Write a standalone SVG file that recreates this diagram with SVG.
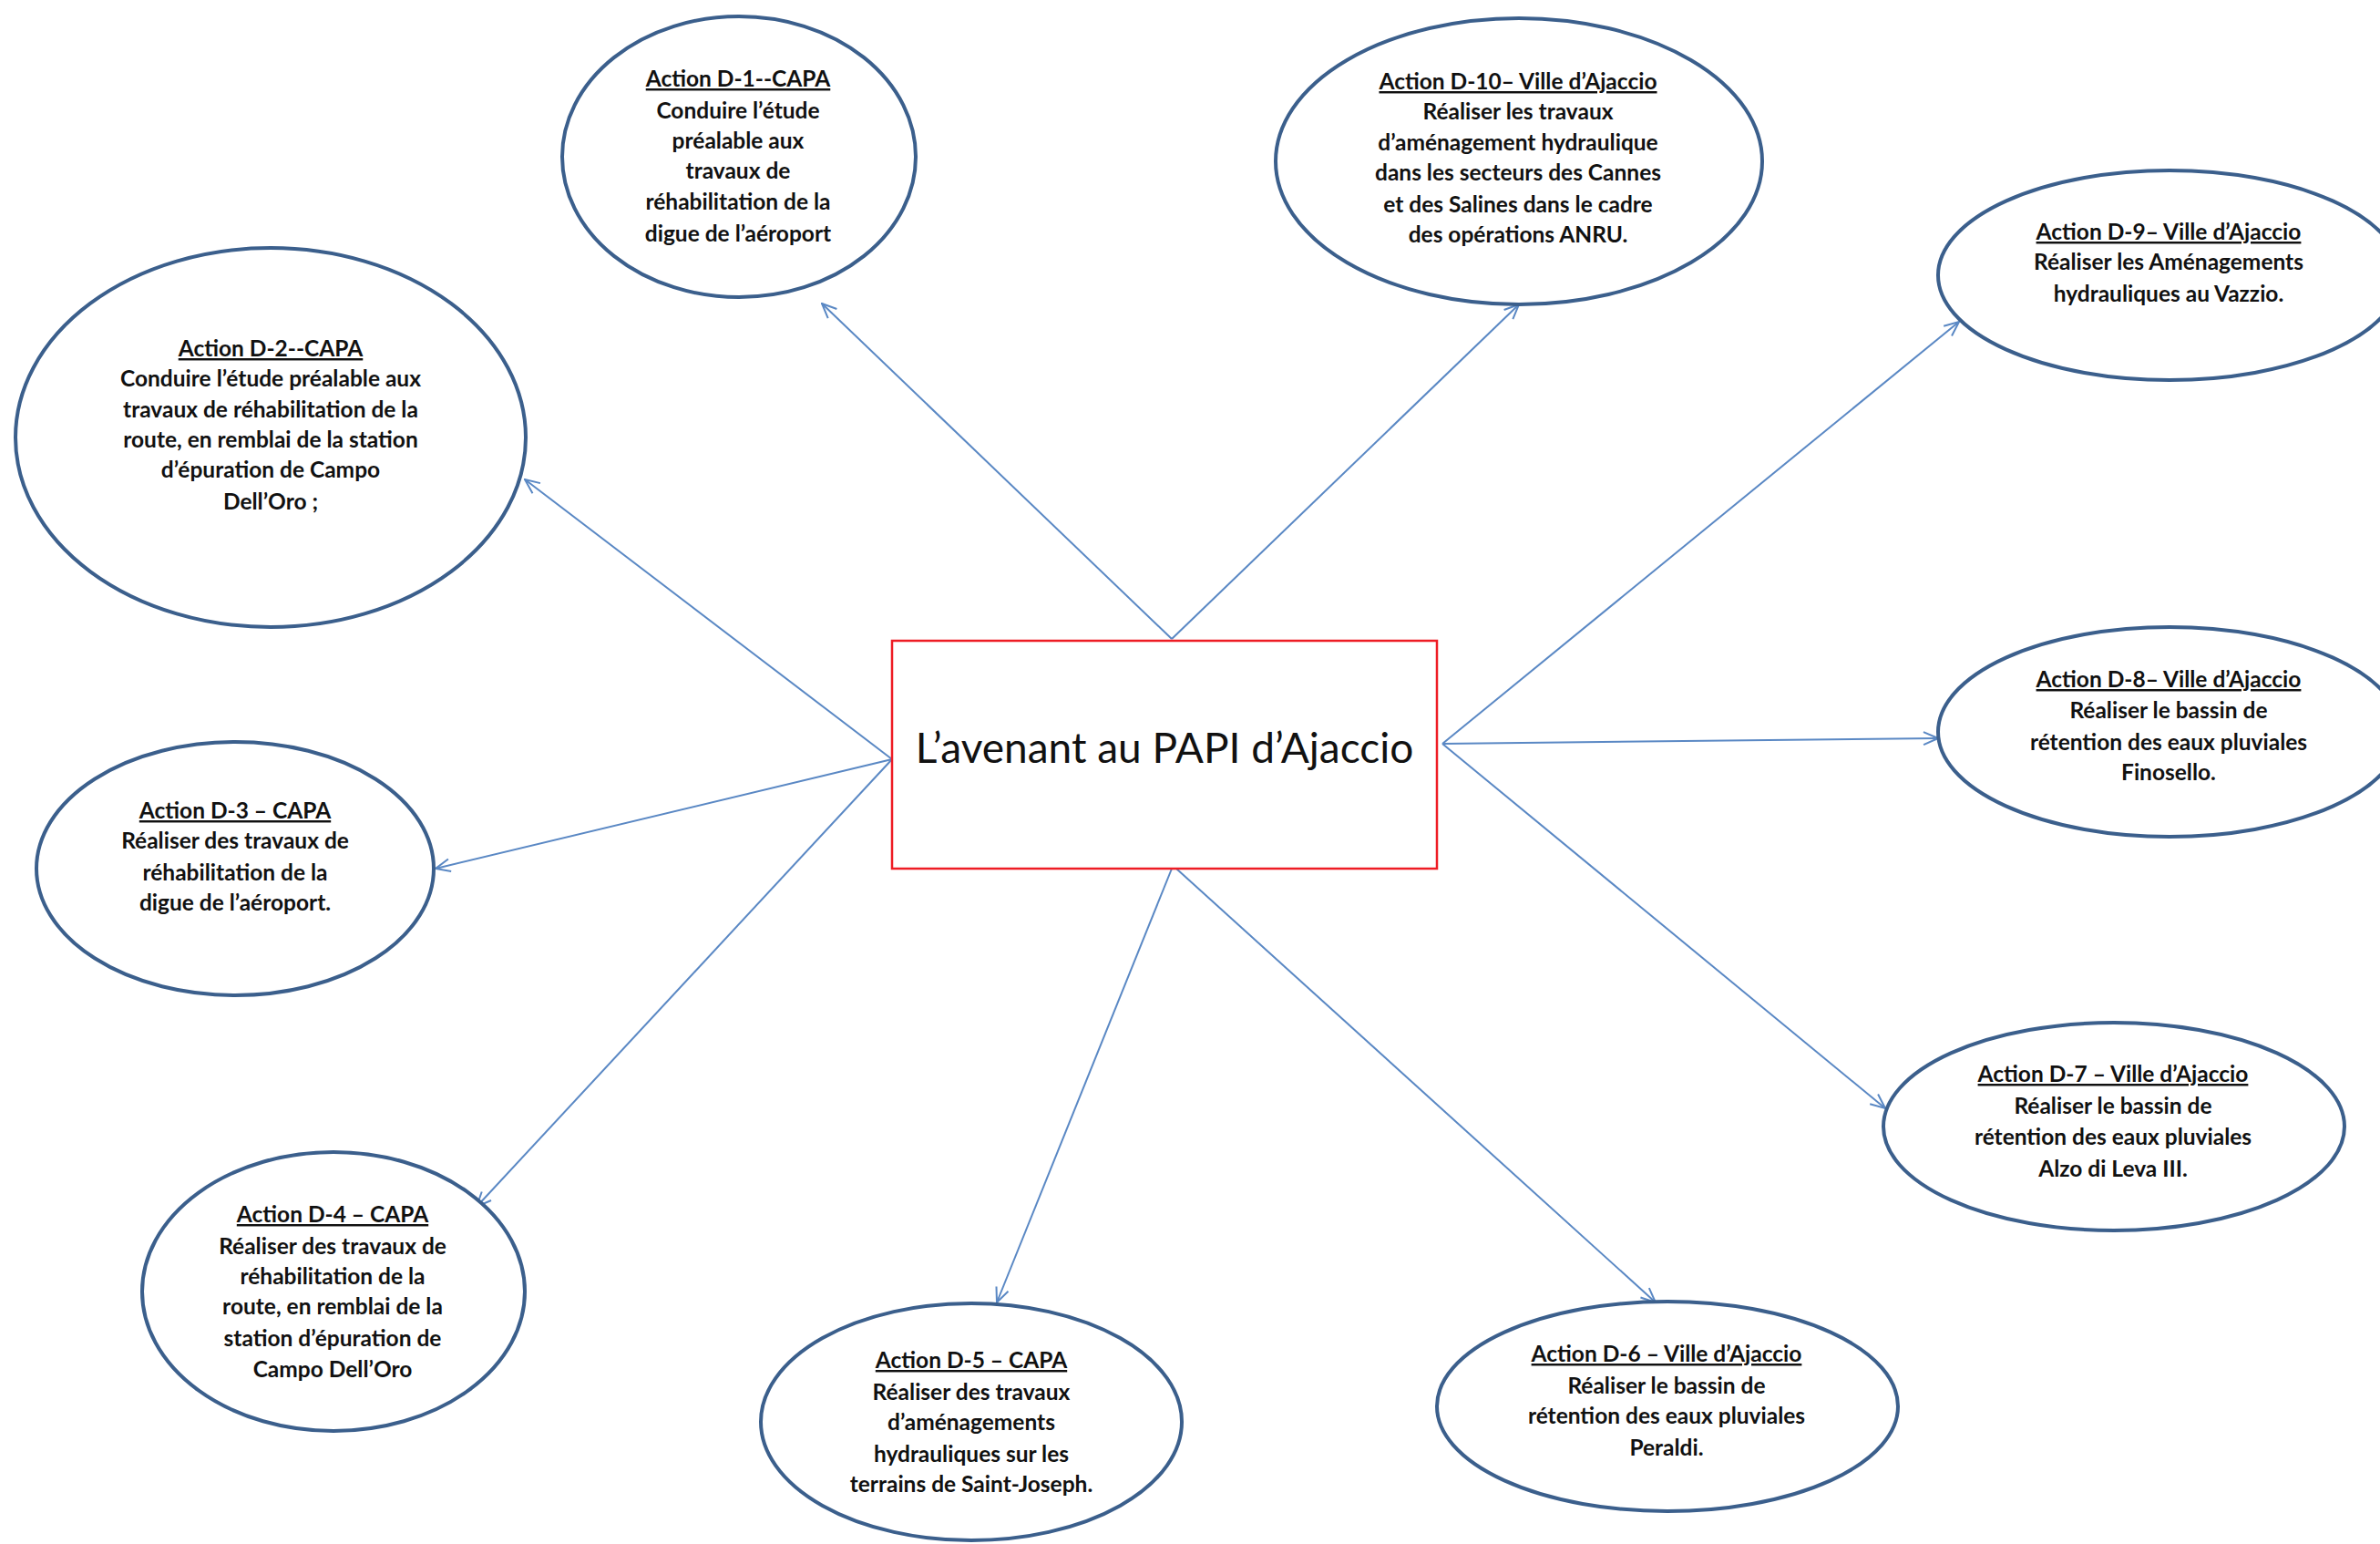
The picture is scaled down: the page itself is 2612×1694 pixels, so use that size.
<svg xmlns="http://www.w3.org/2000/svg" width="2612" height="1694" viewBox="0 0 2612 1694">
<style>
.node ellipse{fill:#ffffff;stroke:#3b5f8c;stroke-width:4}
.t{font-family:Lato,"Liberation Sans",sans-serif;font-weight:bold;font-size:24.5px;fill:#111;text-anchor:middle}
.h{text-decoration:underline}
.conn line{stroke:#5a88c4;stroke-width:2;marker-end:url(#arr)}
.main rect{fill:#fff;stroke:#ee1c24;stroke-width:2.5}
.mt{font-family:Lato,"Liberation Sans",sans-serif;font-size:46px;fill:#111;text-anchor:middle}
</style>
<defs>
<marker id="arr" viewBox="0 0 20 20" refX="19" refY="10" markerWidth="20" markerHeight="20" markerUnits="userSpaceOnUse" orient="auto">
<path d="M3,3 L19,10 L3,17" fill="none" stroke="#5a88c4" stroke-width="2"/>
</marker>
</defs>
<rect width="2612" height="1694" fill="#ffffff"/>
<g class="conn" id="connectors">
<line x1="1286" y1="701" x2="902" y2="333"/>
<line x1="1286" y1="701" x2="1667" y2="334"/>
<line x1="1583" y1="816" x2="2150" y2="353"/>
<line x1="1583" y1="816" x2="2127" y2="810"/>
<line x1="1583" y1="816" x2="2069" y2="1216"/>
<line x1="1291" y1="953" x2="1817" y2="1429"/>
<line x1="1286" y1="953" x2="1094" y2="1429"/>
<line x1="979" y1="833" x2="523" y2="1324"/>
<line x1="979" y1="833" x2="478" y2="953"/>
<line x1="979" y1="833" x2="576" y2="526"/>
</g>
<g class="main" id="center">
<rect x="979" y="703" width="598" height="250"/>
<text class="mt" x="1278" y="837">L’avenant au PAPI d’Ajaccio</text>
</g>
<g class="node" id="d1">
<ellipse cx="811" cy="172" rx="194" ry="154"/>
<text class="t h" x="810" y="95">Action D-1--CAPA</text>
<text class="t" x="810" y="130">Conduire l’étude</text>
<text class="t" x="810" y="163">préalable aux</text>
<text class="t" x="810" y="196">travaux de</text>
<text class="t" x="810" y="230">réhabilitation de la</text>
<text class="t" x="810" y="265">digue de l’aéroport</text>
</g>
<g class="node" id="d10">
<ellipse cx="1667" cy="177" rx="267" ry="157"/>
<text class="t h" x="1666" y="98">Action D-10– Ville d’Ajaccio</text>
<text class="t" x="1666" y="131">Réaliser les travaux</text>
<text class="t" x="1666" y="165">d’aménagement hydraulique</text>
<text class="t" x="1666" y="198">dans les secteurs des Cannes</text>
<text class="t" x="1666" y="233">et des Salines dans le cadre</text>
<text class="t" x="1666" y="266">des opérations ANRU.</text>
</g>
<g class="node" id="d9">
<ellipse cx="2381" cy="302" rx="254" ry="115"/>
<text class="t h" x="2380" y="263">Action D-9– Ville d’Ajaccio</text>
<text class="t" x="2380" y="296">Réaliser les Aménagements</text>
<text class="t" x="2380" y="331">hydrauliques au Vazzio.</text>
</g>
<g class="node" id="d2">
<ellipse cx="297" cy="480" rx="280" ry="208"/>
<text class="t h" x="297" y="391">Action D-2--CAPA</text>
<text class="t" x="297" y="424">Conduire l’étude préalable aux</text>
<text class="t" x="297" y="458">travaux de réhabilitation de la</text>
<text class="t" x="297" y="491">route, en remblai de la station</text>
<text class="t" x="297" y="524">d’épuration de Campo</text>
<text class="t" x="297" y="559">Dell’Oro ;</text>
</g>
<g class="node" id="d8">
<ellipse cx="2381" cy="803" rx="254" ry="115"/>
<text class="t h" x="2380" y="754">Action D-8– Ville d’Ajaccio</text>
<text class="t" x="2380" y="788">Réaliser le bassin de</text>
<text class="t" x="2380" y="823">rétention des eaux pluviales</text>
<text class="t" x="2380" y="856">Finosello.</text>
</g>
<g class="node" id="d3">
<ellipse cx="258" cy="953" rx="218" ry="139"/>
<text class="t h" x="258" y="898">Action D-3 – CAPA</text>
<text class="t" x="258" y="931">Réaliser des travaux de</text>
<text class="t" x="258" y="966">réhabilitation de la</text>
<text class="t" x="258" y="999">digue de l’aéroport.</text>
</g>
<g class="node" id="d7">
<ellipse cx="2320" cy="1236" rx="253" ry="114"/>
<text class="t h" x="2319" y="1187">Action D-7 – Ville d’Ajaccio</text>
<text class="t" x="2319" y="1222">Réaliser le bassin de</text>
<text class="t" x="2319" y="1256">rétention des eaux pluviales</text>
<text class="t" x="2319" y="1291">Alzo di Leva III.</text>
</g>
<g class="node" id="d4">
<ellipse cx="366" cy="1417" rx="210" ry="153"/>
<text class="t h" x="365" y="1341">Action D-4 – CAPA</text>
<text class="t" x="365" y="1376">Réaliser des travaux de</text>
<text class="t" x="365" y="1409">réhabilitation de la</text>
<text class="t" x="365" y="1442">route, en remblai de la</text>
<text class="t" x="365" y="1477">station d’épuration de</text>
<text class="t" x="365" y="1511">Campo Dell’Oro</text>
</g>
<g class="node" id="d5">
<ellipse cx="1066" cy="1560" rx="231" ry="130"/>
<text class="t h" x="1066" y="1501">Action D-5 – CAPA</text>
<text class="t" x="1066" y="1536">Réaliser des travaux</text>
<text class="t" x="1066" y="1569">d’aménagements</text>
<text class="t" x="1066" y="1604">hydrauliques sur les</text>
<text class="t" x="1066" y="1637">terrains de Saint-Joseph.</text>
</g>
<g class="node" id="d6">
<ellipse cx="1830" cy="1543" rx="253" ry="115"/>
<text class="t h" x="1829" y="1494">Action D-6 – Ville d’Ajaccio</text>
<text class="t" x="1829" y="1529">Réaliser le bassin de</text>
<text class="t" x="1829" y="1562">rétention des eaux pluviales</text>
<text class="t" x="1829" y="1597">Peraldi.</text>
</g>
</svg>
